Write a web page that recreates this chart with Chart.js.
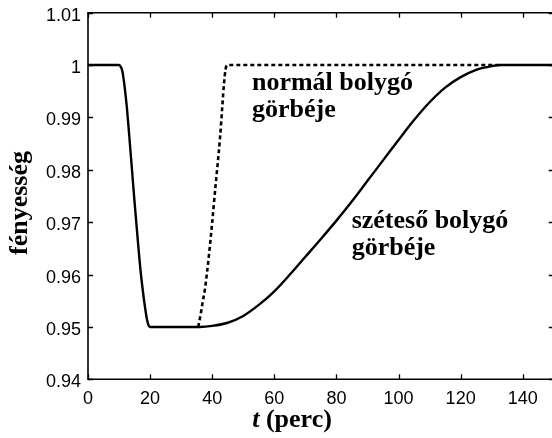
<!DOCTYPE html>
<html>
<head>
<meta charset="utf-8">
<script src="https://cdn.jsdelivr.net/npm/chart.js@4"></script>
<style>
  html, body { margin: 0; padding: 0; background: #fff; overflow: hidden; }
  #wrap { width: 552px; height: 438px; overflow: hidden; position: relative; }
  canvas { display: block; position: absolute; left: 0; top: -8px; }
</style>
</head>
<body>
<div id="wrap"><canvas id="c" width="560" height="446"></canvas></div>
<script>
// ---- data ----
const solidT = [0, 10, 10.5, 11, 11.5, 12, 12.5, 13, 14, 15, 16, 17, 18, 18.5, 19, 19.5, 20,
  36, 40, 45, 50, 55, 60, 65, 70, 75, 80, 85, 90, 95, 100, 105, 110, 115, 120, 125, 130, 133, 150];
const solidV = [1, 1, 0.9997, 0.999, 0.9972, 0.9948, 0.992, 0.9886, 0.9812, 0.9738, 0.9668, 0.9603, 0.9553, 0.9532, 0.9514, 0.9503, 0.95,
  0.95, 0.9502, 0.9508, 0.9521, 0.9542, 0.9568, 0.96, 0.9634, 0.9668, 0.9703, 0.974, 0.9779, 0.9818, 0.9857, 0.9895, 0.9929, 0.9957, 0.9977, 0.9991, 0.9998, 1, 1];

const dashedT = [35.5, 36.3, 37, 37.7, 39, 40, 41, 41.7, 42.5, 43.3, 43.8, 44.3, 44.8, 133];
const dashedV = [0.95, 0.9525, 0.955, 0.9574, 0.964, 0.970, 0.9765, 0.9808, 0.986, 0.9925, 0.9965, 0.9992, 1, 1];

const xTickValues = [0, 20, 40, 60, 80, 100, 120, 140];
const yTickValues = [0.94, 0.95, 0.96, 0.97, 0.98, 0.99, 1, 1.01];

const labelNormal = ["normál bolygó", "görbéje"];
const labelNormalAt = { t: 52.8, v: 0.9952 };
const labelDisint = ["széteső bolygó", "görbéje"];
const labelDisintAt = { t: 84.9, v: 0.9688 };

const yTitle = "fényesség";
const xTitleItalic = "t";
const xTitleRest = " (perc)";

// ---- build ----
const OFFSET = 8; // canvas is shifted up by this many px inside the page
const toXY = (ts, vs) => ts.map((t, i) => ({ x: t, y: vs[i] }));

const framePlugin = {
  id: 'frame',
  afterDatasetsDraw(chart) {
    const ctx = chart.ctx;
    const a = chart.chartArea;
    const xs = chart.scales.x, ys = chart.scales.y;
    ctx.save();
    ctx.strokeStyle = '#000';
    ctx.lineWidth = 1.6;
    ctx.beginPath();
    ctx.rect(a.left, a.top, a.right - a.left, a.bottom - a.top);
    ctx.stroke();
    const tl = 5;
    ctx.lineWidth = 1.3;
    ctx.beginPath();
    xTickValues.forEach(v => {
      const px = Math.round(xs.getPixelForValue(v)) + 0.5;
      ctx.moveTo(px, a.bottom); ctx.lineTo(px, a.bottom - tl);
      ctx.moveTo(px, a.top); ctx.lineTo(px, a.top + tl);
    });
    yTickValues.forEach(v => {
      const py = Math.round(ys.getPixelForValue(v)) + 0.5;
      ctx.moveTo(a.left, py); ctx.lineTo(a.left + tl, py);
      ctx.moveTo(a.right, py); ctx.lineTo(a.right - tl, py);
    });
    ctx.stroke();

    // annotations
    ctx.fillStyle = '#000';
    ctx.font = 'bold 26px "Liberation Serif", "Times New Roman", serif';
    ctx.textAlign = 'left';
    ctx.textBaseline = 'alphabetic';
    const drawLabel = (lines, at) => {
      const x = xs.getPixelForValue(at.t);
      const y = ys.getPixelForValue(at.v);
      lines.forEach((s, i) => ctx.fillText(s, x, y + i * 27));
    };
    drawLabel(labelNormal, labelNormalAt);
    drawLabel(labelDisint, labelDisintAt);

    // y title
    ctx.save();
    ctx.translate(27, 203 + OFFSET);
    ctx.rotate(-Math.PI / 2);
    ctx.textAlign = 'center';
    ctx.font = 'bold 26px "Liberation Serif", "Times New Roman", serif';
    ctx.fillText(yTitle, 0, 0);
    ctx.restore();

    // x title
    const fI = 'italic bold 26px "Liberation Serif", "Times New Roman", serif';
    const fB = 'bold 26px "Liberation Serif", "Times New Roman", serif';
    ctx.font = fI; const w1 = ctx.measureText(xTitleItalic).width;
    ctx.font = fB; const w2 = ctx.measureText(xTitleRest).width;
    const cx = 292, by = 427 + OFFSET;
    let sx = cx - (w1 + w2) / 2;
    ctx.font = fI; ctx.fillText(xTitleItalic, sx, by);
    ctx.font = fB; ctx.fillText(xTitleRest, sx + w1, by);
    ctx.restore();
  }
};

new Chart(document.getElementById('c'), {
  type: 'line',
  data: {
    datasets: [
      {
        data: toXY(solidT, solidV),
        borderColor: '#000',
        borderWidth: 2.4,
        pointRadius: 0,
        fill: false,
        cubicInterpolationMode: 'monotone'
      },
      {
        data: toXY(dashedT, dashedV),
        borderColor: '#000',
        borderWidth: 2.6,
        borderDash: [4, 3],
        pointRadius: 0,
        fill: false,
        cubicInterpolationMode: 'monotone'
      }
    ]
  },
  options: {
    responsive: false,
    animation: false,
    events: [],
    layout: { padding: { left: 0, top: 12.7 + OFFSET, right: 6.2, bottom: 0 } },
    plugins: { legend: { display: false }, tooltip: { enabled: false } },
    scales: {
      x: {
        type: 'linear',
        min: 0, max: 150,
        grid: { display: false, drawTicks: false },
        border: { display: false },
        afterFit(s) { s.height = 58.7; },
        afterBuildTicks(s) { s.ticks = xTickValues.map(v => ({ value: v })); },
        ticks: {
          padding: 9,
          color: '#000',
          maxRotation: 0,
          autoSkip: false,
          font: { family: '"Liberation Sans", Arial, sans-serif', size: 18 },
          callback: v => String(v)
        }
      },
      y: {
        type: 'linear',
        min: 0.94, max: 1.01,
        grid: { display: false, drawTicks: false },
        border: { display: false },
        afterFit(s) { s.width = 88; },
        afterBuildTicks(s) { s.ticks = yTickValues.map(v => ({ value: v })); },
        ticks: {
          padding: 7,
          color: '#000',
          autoSkip: false,
          labelOffset: 3,
          font: { family: '"Liberation Sans", Arial, sans-serif', size: 18 },
          callback: v => String(parseFloat(Number(v).toFixed(2)))
        }
      }
    }
  },
  plugins: [framePlugin]
});
</script>
</body>
</html>
